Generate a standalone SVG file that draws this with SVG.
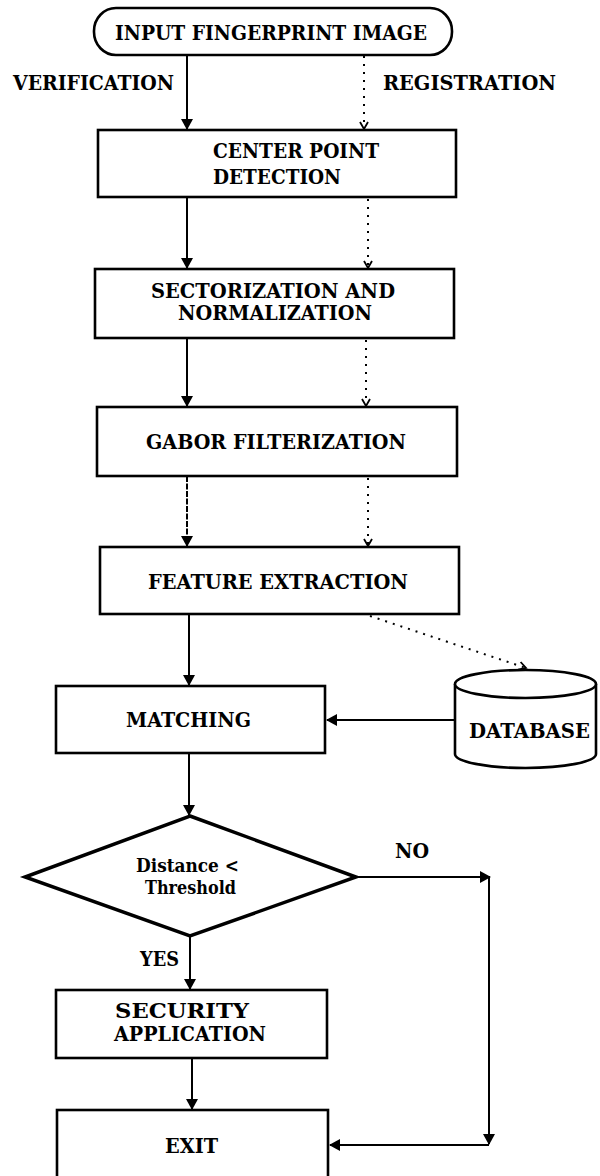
<svg xmlns="http://www.w3.org/2000/svg" width="600" height="1176" viewBox="0 0 600 1176">
<style>
.box{fill:#fff;stroke:#000;stroke-width:2.6}
.t{font-family:"DejaVu Serif","Liberation Serif",serif;font-weight:bold;font-size:20px;fill:#000}
.s{font-family:"DejaVu Serif","Liberation Serif",serif;font-weight:bold;font-size:18px;fill:#000}
.ln{fill:none;stroke:#000;stroke-width:2}
.dt{fill:none;stroke:#000;stroke-width:2;stroke-dasharray:2 6}
</style>
<defs>
<marker id="ah" markerUnits="userSpaceOnUse" markerWidth="12" markerHeight="12" refX="10" refY="6" orient="auto">
<path d="M0,0 L11,6 L0,12 z" fill="#000"/>
</marker>
<marker id="ahd" markerUnits="userSpaceOnUse" markerWidth="10" markerHeight="10" refX="8" refY="5" orient="auto">
<path d="M1,1 L8,5 L1,9" fill="none" stroke="#000" stroke-width="1.8"/>
</marker>
</defs>
<rect width="600" height="1176" fill="#fff"/>
<g id="connectors">
<line class="ln" x1="187" y1="55" x2="187" y2="129" marker-end="url(#ah)"/>
<line class="dt" x1="364" y1="56" x2="364" y2="129" marker-end="url(#ahd)"/>
<line class="ln" x1="187" y1="197" x2="187" y2="268" marker-end="url(#ah)"/>
<line class="dt" x1="368" y1="199" x2="368" y2="268" marker-end="url(#ahd)"/>
<line class="ln" x1="187" y1="338" x2="187" y2="406" marker-end="url(#ah)"/>
<line class="dt" x1="366" y1="340" x2="366" y2="406" marker-end="url(#ahd)"/>
<line class="ln" x1="187" y1="476" x2="187" y2="546" marker-end="url(#ah)" stroke-dasharray="6 1.5"/>
<line class="dt" x1="368" y1="478" x2="368" y2="546" marker-end="url(#ahd)"/>
<line class="ln" x1="189" y1="614" x2="189" y2="685" marker-end="url(#ah)"/>
<line class="dt" x1="370" y1="616" x2="526" y2="668" marker-end="url(#ahd)"/>
<line class="ln" x1="455" y1="720" x2="327" y2="720" marker-end="url(#ah)"/>
<line class="ln" x1="189" y1="753" x2="189" y2="815" marker-end="url(#ah)"/>
<line class="ln" x1="356" y1="877" x2="490" y2="877" marker-end="url(#ah)"/>
<line class="ln" x1="489" y1="877" x2="489" y2="1144" marker-end="url(#ah)"/>
<line class="ln" x1="489" y1="1145" x2="330" y2="1145" marker-end="url(#ah)"/>
<line class="ln" x1="190" y1="936" x2="190" y2="989" marker-end="url(#ah)"/>
<line class="ln" x1="192" y1="1058" x2="192" y2="1109" marker-end="url(#ah)"/>
</g>
<g id="n-input">
<rect class="box" x="94" y="8" width="358" height="47" rx="22" ry="23"/>
<text class="t" x="271" y="40" text-anchor="middle" textLength="312" lengthAdjust="spacingAndGlyphs">INPUT FINGERPRINT IMAGE</text>
</g>
<g id="l-verification"><text class="t" x="13" y="90" textLength="161" lengthAdjust="spacingAndGlyphs">VERIFICATION</text></g>
<g id="l-registration"><text class="t" x="383" y="90" textLength="173" lengthAdjust="spacingAndGlyphs">REGISTRATION</text></g>
<g id="n-center">
<rect class="box" x="98" y="130" width="358" height="67"/>
<text class="t" x="213" y="158" textLength="166" lengthAdjust="spacingAndGlyphs">CENTER POINT</text>
<text class="t" x="213" y="184" textLength="128" lengthAdjust="spacingAndGlyphs">DETECTION</text>
</g>
<g id="n-sector">
<rect class="box" x="95" y="269" width="359" height="69"/>
<text class="t" x="151" y="298" textLength="244" lengthAdjust="spacingAndGlyphs">SECTORIZATION AND</text>
<text class="t" x="178" y="320" textLength="194" lengthAdjust="spacingAndGlyphs">NORMALIZATION</text>
</g>
<g id="n-gabor">
<rect class="box" x="97" y="407" width="360" height="69"/>
<text class="t" x="146" y="449" textLength="260" lengthAdjust="spacingAndGlyphs">GABOR FILTERIZATION</text>
</g>
<g id="n-feature">
<rect class="box" x="100" y="547" width="359" height="67"/>
<text class="t" x="148" y="589" textLength="260" lengthAdjust="spacingAndGlyphs">FEATURE EXTRACTION</text>
</g>
<g id="n-matching">
<rect class="box" x="56" y="686" width="269" height="67"/>
<text class="t" x="126" y="727" textLength="125" lengthAdjust="spacingAndGlyphs">MATCHING</text>
</g>
<g id="n-database">
<path class="box" d="M455,684 L455,754 A70.5,14 0 0 0 596,754 L596,684"/>
<ellipse class="box" cx="525.5" cy="684" rx="70.5" ry="14"/>
<text class="t" x="469" y="738" textLength="121" lengthAdjust="spacingAndGlyphs">DATABASE</text>
</g>
<g id="n-decision">
<polygon class="box" points="190,816 356,877 190,936 25,877" style="stroke-width:3.5"/>
<text class="s" x="136" y="872" textLength="103" lengthAdjust="spacingAndGlyphs">Distance &lt;</text>
<text class="s" x="145" y="894" textLength="91" lengthAdjust="spacingAndGlyphs">Threshold</text>
</g>
<g id="l-no"><text class="t" x="395" y="858" textLength="34" lengthAdjust="spacingAndGlyphs">NO</text></g>
<g id="l-yes"><text class="t" x="140" y="966" textLength="39" lengthAdjust="spacingAndGlyphs">YES</text></g>
<g id="n-security">
<rect class="box" x="56" y="990" width="271" height="68"/>
<text class="t" x="115" y="1018" textLength="134" lengthAdjust="spacingAndGlyphs">SECURITY</text>
<text class="t" x="114" y="1041" textLength="152" lengthAdjust="spacingAndGlyphs">APPLICATION</text>
</g>
<g id="n-exit">
<rect class="box" x="57" y="1110" width="271" height="70"/>
<text class="t" x="165" y="1153" textLength="53" lengthAdjust="spacingAndGlyphs">EXIT</text>
</g>
</svg>
